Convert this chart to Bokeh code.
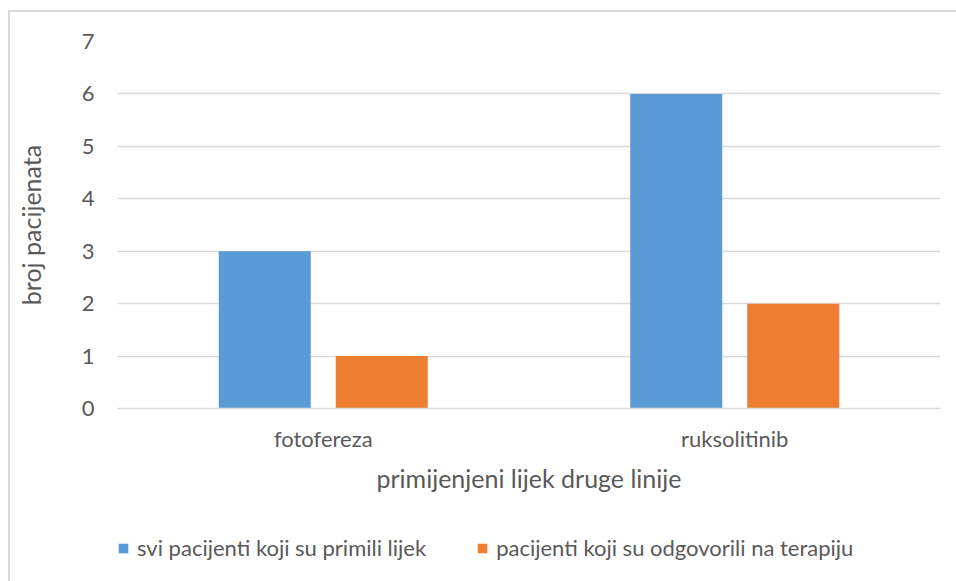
from bokeh.plotting import figure
from bokeh.layouts import column
from bokeh.models import ColumnDataSource, FactorRange, Range1d, Legend, LegendItem, FixedTicker
from bokeh.transform import dodge
from bokeh.embed import file_html
from bokeh.resources import INLINE

categories = ["fotofereza", "ruksolitinib"]
svi_pacijenti = [3, 6]
odgovorili = [1, 2]
series_labels = ["svi pacijenti koji su primili lijek", "pacijenti koji su odgovorili na terapiju"]
y_ticks = [0, 1, 2, 3, 4, 5, 6, 7]

FONT = "Lato"
TXT = "#595959"
GRID = "#d9d9d9"
BLUE = "#5b9bd5"
ORANGE = "#ed7d31"

source = ColumnDataSource(dict(cat=categories, svi=svi_pacijenti, odg=odgovorili))

p = figure(width=956, height=510,
           x_range=FactorRange(factors=categories, range_padding=0),
           y_range=Range1d(0, 7), output_backend="svg", toolbar_location=None,
           min_border_left=117, min_border_right=16, min_border_top=41, min_border_bottom=102)
p.border_fill_color = None
p.background_fill_color = None
p.outline_line_color = None

bw = 0.2236
off = 0.1422
p.vbar(x=dodge("cat", -off, range=p.x_range), top="svi", width=bw, source=source,
       fill_color=BLUE, line_color=None)
p.vbar(x=dodge("cat", off, range=p.x_range), top="odg", width=bw, source=source,
       fill_color=ORANGE, line_color=None)

p.yaxis.ticker = FixedTicker(ticks=y_ticks)
p.ygrid.ticker = FixedTicker(ticks=y_ticks)
p.xgrid.grid_line_color = None
p.ygrid.grid_line_color = GRID
p.ygrid.grid_line_width = 1.5

for ax in (p.xaxis[0], p.yaxis[0]):
    ax.major_tick_line_color = None
    ax.minor_tick_line_color = None
    ax.major_label_text_font = FONT
    ax.major_label_text_color = TXT
    ax.major_label_text_font_size = "22px"
    ax.axis_label_text_font = FONT
    ax.axis_label_text_color = TXT
    ax.axis_label_text_font_size = "25px"
    ax.axis_label_text_font_style = "normal"

p.yaxis.axis_line_color = None
p.yaxis.axis_label = "broj pacijenata"
p.yaxis.major_label_standoff = 17
p.yaxis.axis_label_standoff = 33

p.xaxis.axis_line_color = GRID
p.xaxis.axis_line_width = 1.5
p.xaxis.axis_label = "primijenjeni lijek druge linije"
p.xaxis.major_label_standoff = 10
p.xaxis.axis_label_standoff = 8

# legend strip below the chart (same data/colours; bars fall outside its visible range)
pl = figure(width=956, height=71, x_range=FactorRange(factors=categories),
            y_range=Range1d(100, 101), output_backend="svg", toolbar_location=None,
            min_border=0, x_axis_location=None, y_axis_location=None)
pl.border_fill_color = None
pl.background_fill_color = None
pl.outline_line_color = None
pl.grid.visible = False
l1 = pl.vbar(x="cat", top="svi", width=0.2, source=source, fill_color=BLUE, line_color=None)
l2 = pl.vbar(x="cat", top="odg", width=0.2, source=source, fill_color=ORANGE, line_color=None)

legend = Legend(items=[LegendItem(label=series_labels[0], renderers=[l1]),
                       LegendItem(label=series_labels[1], renderers=[l2])],
                orientation="horizontal", location=(0, 20),
                glyph_width=12, glyph_height=12, label_standoff=8, spacing=50,
                label_text_font=FONT, label_text_color=TXT, label_text_font_size="22px",
                border_line_color=None, background_fill_color=None, margin=0, padding=0)
pl.add_layout(legend, "center")

layout = column(p, pl, spacing=0)
layout.styles = {"box-shadow": "inset 8px 10px 0 #ffffff, inset 10px 12px 0 #d9d9d9"}

open("out.html", "w").write(file_html(layout, INLINE))
